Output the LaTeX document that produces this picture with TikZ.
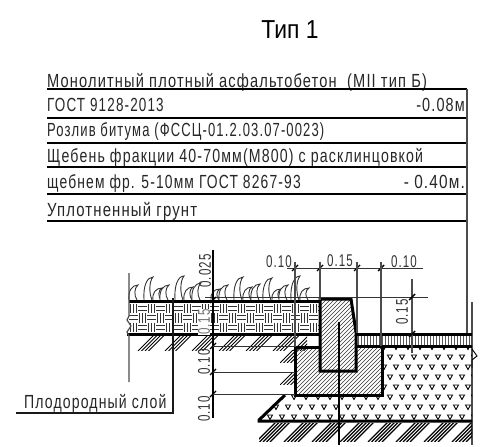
\documentclass[tikz,border=0pt]{standalone}
\usepackage{fontspec}
\setmainfont{Liberation Sans}
\newfontfamily\cadfont[LetterSpace=6]{Liberation Sans}
\newcommand{\cadw}[1]{\addfontfeature{FakeStretch=#1}}
\usetikzlibrary{calc}

\begin{document}
\begin{tikzpicture}[x=1pt,y=-1pt]
\tikzstyle{lbl}=[draw=none,inner sep=0pt,anchor=base west,font=\cadfont\fontsize{19}{19}\selectfont,text=black!85]
\tikzstyle{dimn}=[draw=none,inner sep=0pt,font=\cadfont\fontsize{17}{17}\selectfont\cadw{0.68},text=black!80]
\tikzstyle{thinl}=[line width=0.8pt,black!80]
\tikzstyle{midl}=[line width=1.2pt,black!70]
\tikzstyle{heavy}=[line width=3pt,line join=miter]
\tikzstyle{hatch}=[line width=0.9pt]
\tikzstyle{fine}=[line width=0.6pt,black!80]
\tikzstyle{tick}=[line width=1.4pt]
\useasboundingbox (0,0) rectangle (494,446);
\node[draw=none,inner sep=0pt,font=\fontsize{26}{26}\selectfont\addfontfeature{FakeStretch=0.88}] (title) at (290,30) {Тип 1};
\node[lbl] (t1) at (47,88) {\cadw{0.77}Монолитный плотный асфальтобетон\ \ (MII тип Б)};
\node[lbl] (t2) at (47,112) {\cadw{0.71}ГОСТ 9128-2013};
\node[lbl,anchor=base east] (t2r) at (465,112) {\cadw{0.76}-0.08м};
\node[lbl] (t3) at (47,137) {\cadw{0.685}Розлив битума (ФССЦ-01.2.03.07-0023)};
\node[lbl] (t4) at (47,163) {\cadw{0.745}Щебень фракции 40-70мм(М800) с расклинцовкой};
\node[lbl] (t5) at (47,189) {\cadw{0.73}щебнем фр. 5-10мм ГОСТ 8267-93};
\node[lbl,anchor=base east] (t5r) at (465,189) {\cadw{0.81}- 0.40м.};
\node[lbl] (t6) at (47,216) {\cadw{0.785}Уплотненный грунт};
\foreach \yy in {89,118,143,167,194,221} \draw[line width=1.1pt] (47,\yy) -- (467,\yy);
\draw[midl] (467,89) -- (467,333);
\draw[midl] (472,302) -- (472,445);
% grass
\foreach \gx/\gh in {129/15,144/23,153/12,160/15,175/24,184/13,192/17,211/11,219/15,234/23,243/13,251/16,263/22,272/11,279/15,291/24,300/12}
  \draw[line width=0.9pt,black!80,fill=white] (\gx,300) .. controls (\gx-1,300-0.6*\gh) and (\gx+3,300-\gh) .. (\gx+9,300-\gh) .. controls (\gx+5,300-0.8*\gh) and (\gx+5,300-0.3*\gh) .. (\gx+8,300);
% weave layer
\begin{scope}
\clip (129,304) rectangle (320,332);
\foreach \ci in {0,...,21} \foreach \cj in {0,1,2} {
  \pgfmathtruncatemacro{\cpar}{mod(\ci+\cj,2)}
  \ifnum\cpar=0
    \foreach \ss in {1.5,4.5,7.5} \draw[line width=1pt,black!80] (129+9*\ci+\ss,304+9.3*\cj) -- ++(0,9.3);
  \else
    \foreach \ss in {2.5,6.5} \draw[line width=1pt,black!80] (129+9*\ci,304+9.3*\cj+\ss) -- ++(9,0);
  \fi
}
\end{scope}
% ground hatch
\begin{scope}
\clip (129,335) rectangle (307,350);
\foreach \gx in {138,165,192,219,246,273,293} \foreach \ss in {0,3.5,7,10.5} \draw[hatch] (\gx+\ss,351) -- ++(17,-17);
\end{scope}
\foreach \gy in {350,372} {
\begin{scope}
\clip (280,\gy) rectangle (295,\gy+12);
\foreach \ss in {0,3.5,7,10.5} \draw[hatch] (280+\ss,\gy+13) -- ++(15,-15);
\end{scope}
}
% gravel
\begin{scope}
\clip (382,347) -- (472,347) -- (472,421) -- (259,421) -- (285,395) -- (382,395) -- cycle;
\foreach \ri in {0,...,7} \foreach \ci in {0,...,19} {
  \pgfmathsetmacro{\tx}{258+12*\ci+6*mod(\ri+1,2)}
  \pgfmathsetmacro{\ty}{347+10*\ri}
  \draw[line width=0.9pt] (\tx-2.5,\ty-2) -- (\tx+2.5,\ty-2) -- (\tx,\ty+2.5) -- cycle;
}
\end{scope}
% stripes
\foreach \sx in {358,361,...,472} \draw[line width=0.9pt,black!65] (\sx,335) -- (\sx,345);
% foundation and curb
\begin{scope}
\clip (295,347) rectangle (382,395);
\foreach \ss in {0,4,...,140} \draw[fine] (245+\ss,396) -- ++(50,-50);
\end{scope}
\fill[white] (320,299) -- (351,299) -- (356,332) -- (356,371) -- (320,371) -- cycle;
\begin{scope}
\clip (320,299) -- (351,299) -- (356,332) -- (356,371) -- (320,371) -- cycle;
\foreach \ss in {0,4,...,115} \draw[fine] (245+\ss,373) -- ++(75,-75);
\end{scope}
\draw[heavy] (295,347) -- (295,395) -- (382,395) -- (382,346);
\draw[heavy] (295,347) -- (320,347);
\draw[heavy] (320,299) -- (351,299) -- (356,332) -- (356,371) -- (320,371) -- cycle;
% thick layer lines
\draw[heavy] (129,301) -- (320,301);
\draw[heavy] (127,334) -- (320,334);
\draw[heavy] (356,334) -- (472,334);
\draw[heavy] (356,346) -- (472,346);
\draw[heavy] (285,395) -- (259,420) -- (259,421) -- (472,421);
% bottom hatch
\begin{scope}
\clip (259,423) rectangle (472,441);
\foreach \gx in {258,286,314,342,370,398,426,454} \foreach \ss in {0,3.5,7,10.5,14} \draw[line width=1.1pt] (\gx+\ss-2,442) -- ++(21,-21);
\end{scope}
% break lines
\draw[midl] (129,273) -- (129,316) -- (127,320) -- (131,326) -- (127,332) -- (129,336) -- (129,382);
\draw[line width=0.9pt] (472,349) -- (477,356) -- (472,360) -- (472,368);
% dimensions
\draw[thinl] (287,268) -- (423,268);
\foreach \dx in {295,320,357,381} \draw[tick] (\dx-3,271) -- (\dx+3,265);
\draw[midl] (295,262) -- (295,347);
\draw[midl] (320,262) -- (320,300);
\draw[midl] (357,262) -- (357,333);
\draw[midl] (381,262) -- (381,346);
\draw[thinl] (205,297) -- (428,297);
\draw[midl] (412,279) -- (412,353);
\foreach \dy in {297,334} \draw[tick] (409,\dy+3) -- (415,\dy-3);
\draw[line width=1.2pt] (213,250) -- (213,418);
\foreach \dy in {300,346,372,394} \draw[tick] (210,\dy+3) -- (216,\dy-3);
\draw[thinl] (213,346) -- (295,346);
\draw[thinl] (213,372) -- (295,372);
\draw[thinl] (213,394) -- (295,394);
% leader
\draw[line width=1.2pt,black!90] (173,298) -- (173,413) -- (16,413);
\node[lbl] (plod) at (24,408) {\cadw{0.74}Плодородный слой};
\node[dimn] (d1) at (279,262) {0.10};
\node[dimn] (d2) at (340,261) {0.15};
\node[dimn] (d3) at (404,262) {0.10};
\node[dimn,rotate=90] (d4) at (402,312) {0.15};
\node[dimn,rotate=90] (d5) at (205,271) {0.025};
\node[dimn,rotate=90,fill=white,text=black!55] (d6) at (204,322) {0.15};
\node[dimn,rotate=90] (d7) at (204,362) {0.10};
\node[dimn,rotate=90] (d8) at (204,409) {0.10};
\draw[line width=1.2pt] (339,322) -- (339,445);
\end{tikzpicture}
\end{document}
